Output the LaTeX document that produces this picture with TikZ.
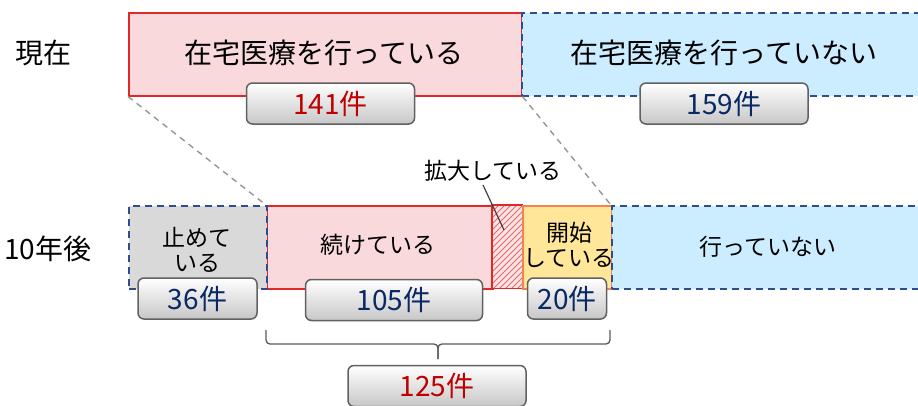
\documentclass[tikz,border=0pt]{standalone}
\usepackage{fontspec}
\setmainfont{Noto Sans CJK JP}
\definecolor{pinkF}{RGB}{249,217,219}
\definecolor{redL}{RGB}{224,40,40}
\definecolor{blueF}{RGB}{204,236,255}
\definecolor{blueL}{RGB}{47,77,140}
\definecolor{grayF}{RGB}{217,217,217}
\definecolor{yelF}{RGB}{255,230,153}
\definecolor{orgL}{RGB}{245,130,80}
\definecolor{numR}{RGB}{192,0,0}
\definecolor{numB}{RGB}{10,40,100}
\definecolor{conG}{RGB}{150,150,150}
\tikzset{
  box/.style={rectangle, inner sep=0pt, anchor=north west},
  redbox/.style={box, fill=pinkF, draw=redL, line width=1.5pt},
  bluebox/.style={box, fill=blueF, draw=blueL, line width=1.7pt, dash pattern=on 7pt off 5pt},
  badge/.style={rectangle, rounded corners=6pt, draw=black!62, line width=1.5pt,
    top color=white, bottom color=black!22, minimum height=41pt, inner sep=0pt,
    font=\fontsize{28}{30}\selectfont},
  bigtxt/.style={inner sep=0pt, font=\fontsize{28}{32}\selectfont},
  smalltxt/.style={inner sep=0pt, align=center, font=\fontsize{23}{25}\selectfont},
  conn/.style={draw=conG, line width=1.4pt, dash pattern=on 6pt off 5pt},
}
\begin{document}
\begin{tikzpicture}[x=1pt,y=-1pt]
\useasboundingbox (0,0) rectangle (918,405);
% top row
\node[redbox, minimum width=393pt, minimum height=83pt] (nowA) at (128,12) {};
\node[bluebox, minimum width=410pt, minimum height=83pt] (nowB) at (521,12) {};
% connectors
\draw[conn] (nowA.south west) -- (266,205) coordinate (c1);
\draw[conn] (nowA.south east) -- (611,205) coordinate (c2);
% bottom row
\node[redbox, minimum width=226pt, minimum height=83pt] (cont) at (266,205) {};
\node[box, fill=pinkF!70, minimum width=30pt, minimum height=83pt] (hatch) at (492,205) {};
\begin{scope}
  \clip (hatch.north west) rectangle (hatch.south east);
  \foreach \k in {-96,-90,...,36} \draw[redL!70, line width=0.8pt] (492+\k,290) -- ++(95,-95);
\end{scope}
\draw[redL, line width=1.5pt] (hatch.north west) rectangle (hatch.south east);
\node[box, fill=yelF, draw=orgL, line width=1.5pt, minimum width=89pt, minimum height=83pt] (start) at (522,205) {};
\node[box, fill=grayF, draw=blueL, line width=1.7pt, dash pattern=on 7pt off 5pt, minimum width=138pt, minimum height=83pt] (stop) at (128,205) {};
\node[bluebox, minimum width=320pt, minimum height=83pt] (none) at (611,205) {};
% texts
\node[bigtxt] (tNow) at (44,53) {現在};
\node[bigtxt] (tTen) at (48,249) {10年後};
\node[bigtxt] (tA) at (324,53) {在宅医療を行っている};
\node[bigtxt] (tB) at (724,53) {在宅医療を行っていない};
\node[smalltxt] (tStop) at (197,250) {止めて\\いる};
\node[smalltxt] (tCont) at (378,245) {続けている};
\node[smalltxt] (tStart) at (569,245) {開始\\している};
\node[smalltxt] (tNone) at (768,247) {行っていない};
\node[smalltxt] (tExp) at (493,171) {拡大している};
\coordinate (ea) at (483,185);
\coordinate (eb) at (504,230);
\draw[black!75, line width=1.2pt] (ea) -- (eb);
% badges
\node[badge, minimum width=168pt, text=numR] (b141) at (330.5,103.5) {141件};
\node[badge, minimum width=168pt, text=numB] (b159) at (724,103.5) {159件};
\node[badge, minimum width=119pt, text=numB] (b36) at (197.5,298.5) {36件};
\node[badge, minimum width=177pt, text=numB] (b105) at (394,300) {105件};
\node[badge, minimum width=79pt, text=numB] (b20) at (567,298.5) {20件};
\node[badge, minimum width=178pt, text=numR] (b125) at (437,386) {125件};
% brace
\coordinate (brL) at (266,330);
\coordinate (brR) at (610,330);
\coordinate (brT) at (438,359);
\draw[black!65, line width=1.3pt, rounded corners=4pt] (brL) -- (266,344) -- (438,344) -- (brT);
\draw[black!65, line width=1.3pt, rounded corners=4pt] (brR) -- (610,344) -- (438,344) -- (brT);
\end{tikzpicture}
\end{document}
